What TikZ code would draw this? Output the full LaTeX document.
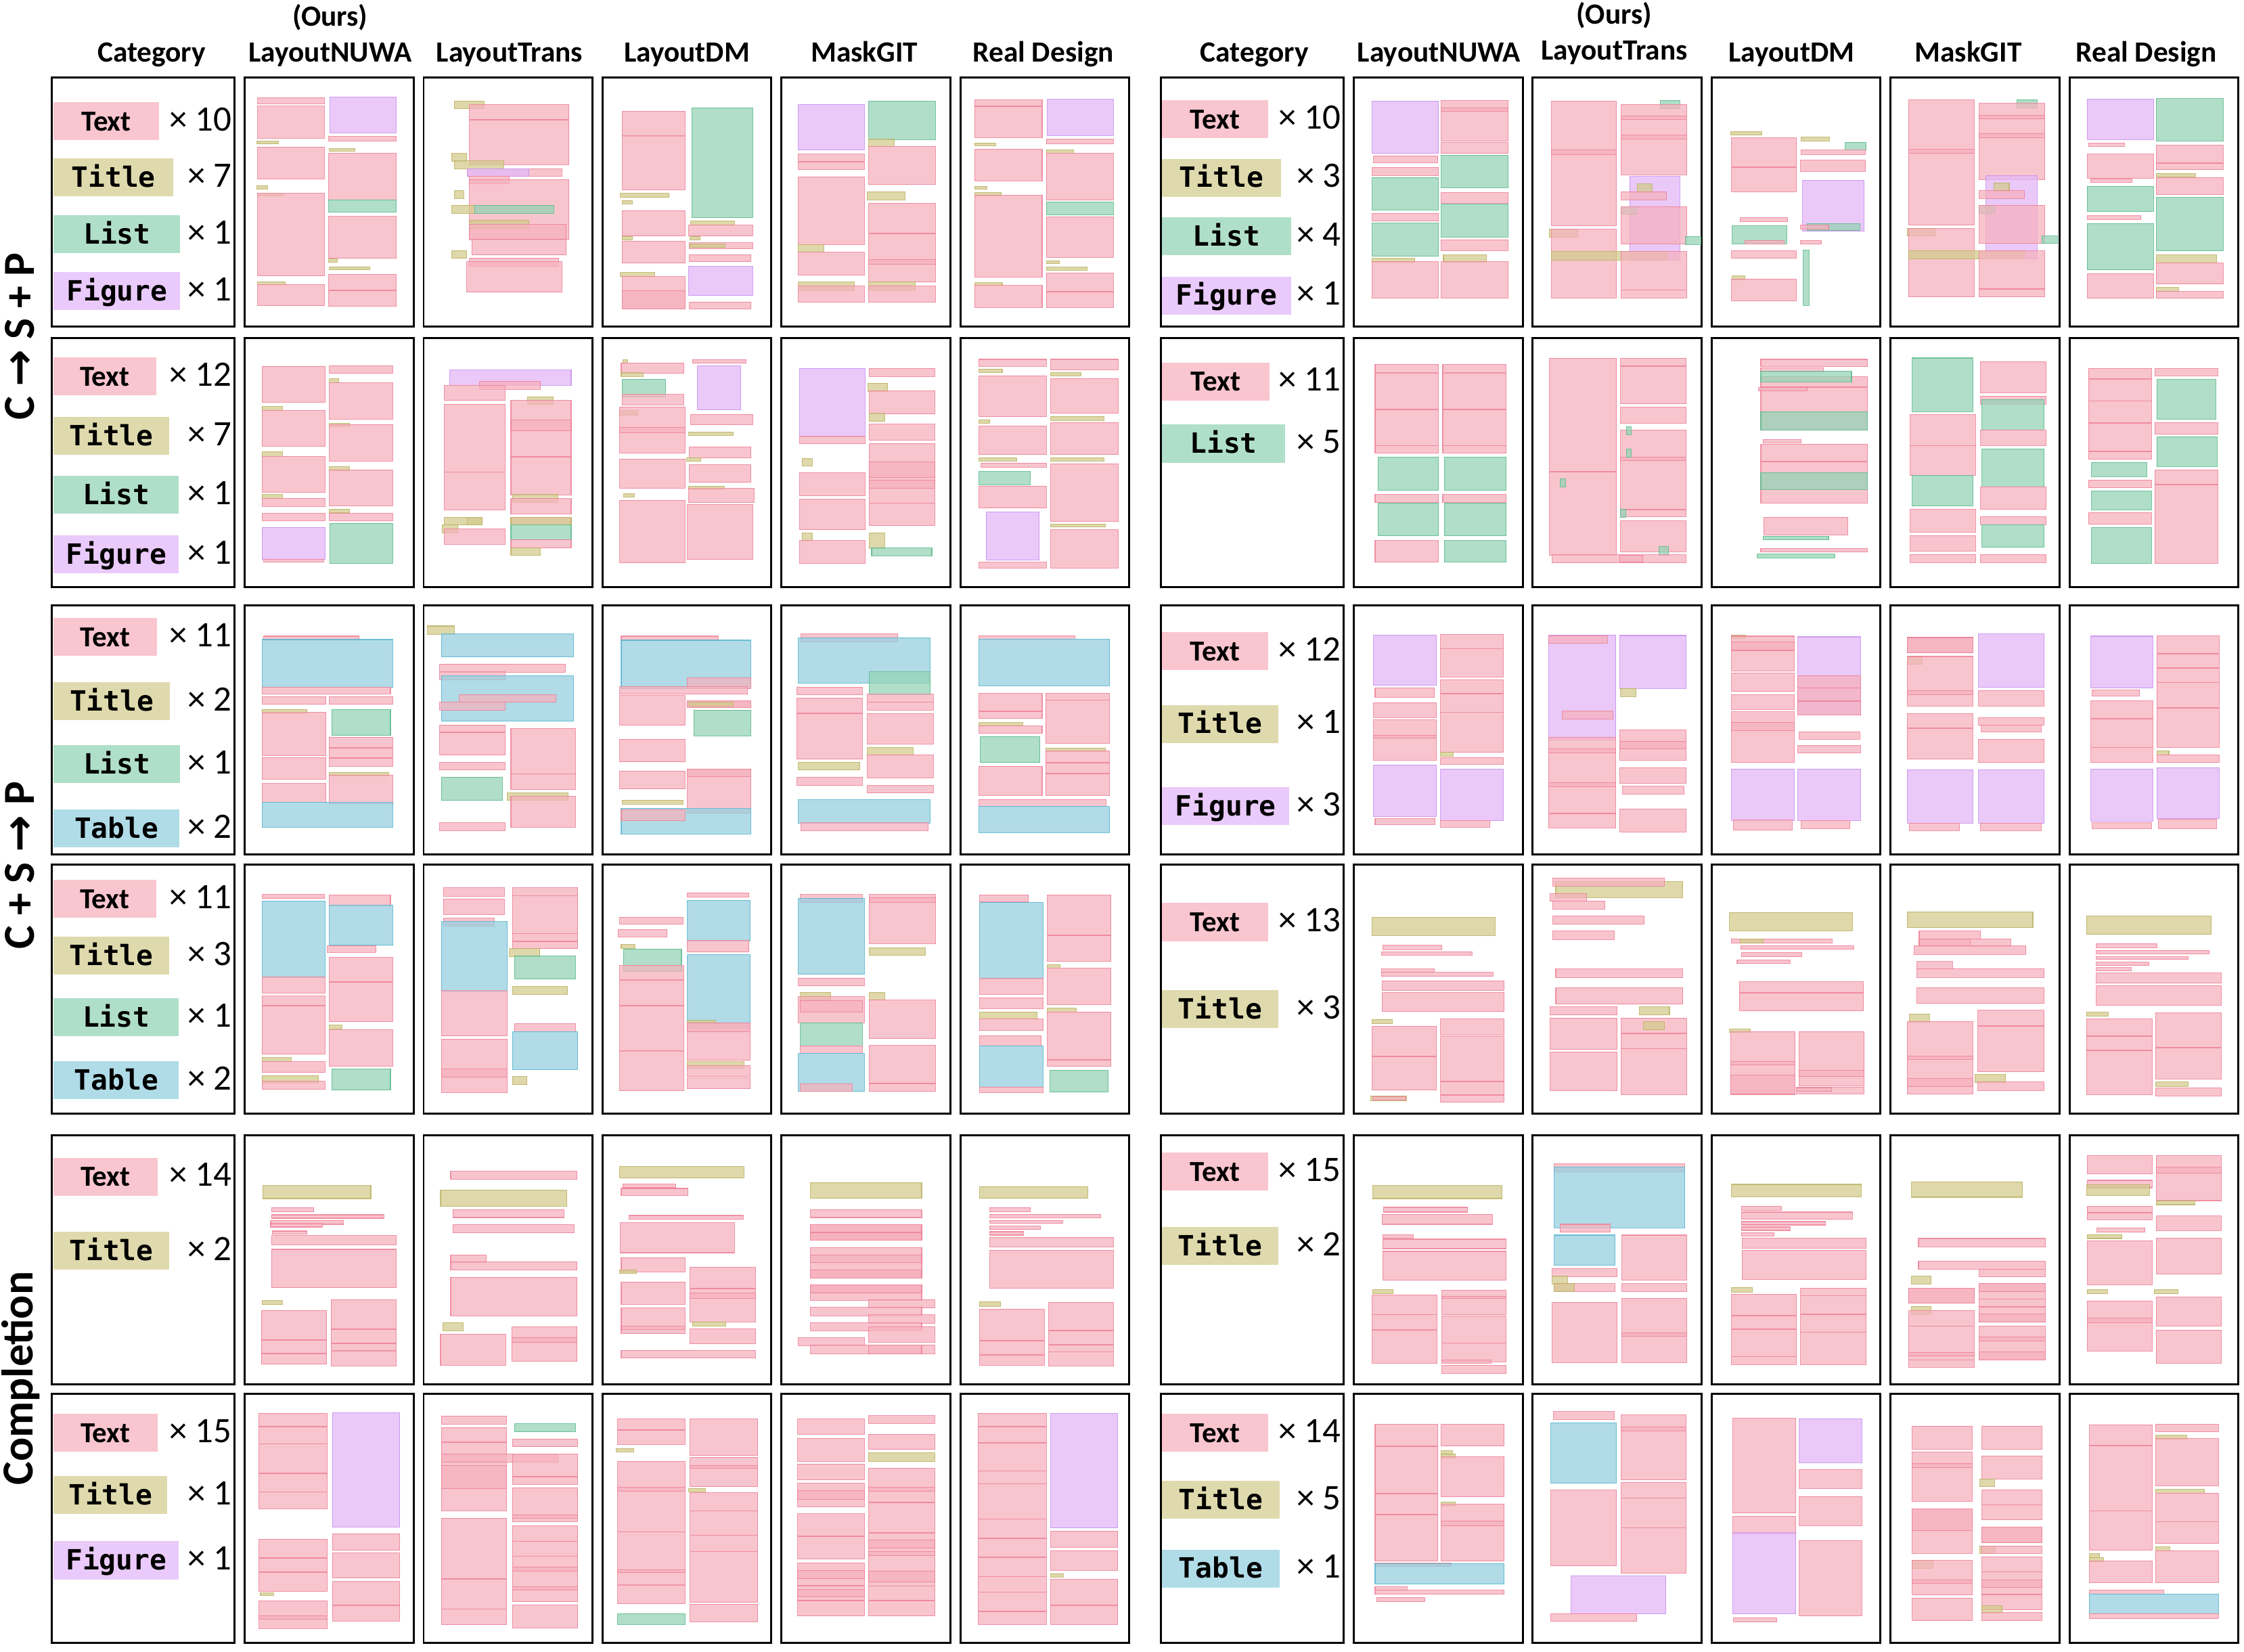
\documentclass[tikz,border=0pt]{standalone}
\usepackage{fontspec}
\setmainfont{Carlito}
\newfontfamily\monob{DejaVu Sans Mono}
\newfontfamily\dejab{DejaVu Sans}
\definecolor{txf}{HTML}{F6B2BE}\definecolor{txd}{HTML}{EE8298}
\definecolor{tif}{HTML}{D3CB8E}\definecolor{tid}{HTML}{BDB265}
\definecolor{lif}{HTML}{96D3B6}\definecolor{lid}{HTML}{5DBB8E}
\definecolor{fif}{HTML}{E3B8F8}\definecolor{fid}{HTML}{C890EE}
\definecolor{tbf}{HTML}{96D0E0}\definecolor{tbd}{HTML}{5AB6D0}
\definecolor{cT}{HTML}{F9C5CE}\definecolor{cH}{HTML}{DFDAAD}
\definecolor{cL}{HTML}{B0DFC9}\definecolor{cF}{HTML}{EACAFA}
\definecolor{cB}{HTML}{B0DCE8}
\tikzset{
 rbase/.style={fill opacity=0.75, draw opacity=0.85, line width=0.5pt},
 tx/.style={rbase, fill=txf, draw=txd},
 ti/.style={rbase, fill=tif, draw=tid},
 li/.style={rbase, fill=lif, draw=lid},
 fi/.style={rbase, fill=fif, draw=fid},
 tb/.style={rbase, fill=tbf, draw=tbd},
 ln/.style={draw=txd, line width=0.8pt, draw opacity=0.85},
 pbox/.style={draw=black, line width=1.4pt, fill=white},
 hdr/.style={font=\fontsize{20.5}{24}\selectfont\bfseries, anchor=base, inner sep=0pt},
 cnt/.style={font=\fontsize{25}{28}\selectfont, anchor=base east, inner sep=0pt},
 lbt/.style={anchor=base, inner sep=0pt},
 rowl/.style={font=\fontsize{31}{34}\selectfont\bfseries, rotate=90, anchor=base, inner sep=0pt}
}
\newcommand\rtx[4]{\filldraw[tx] (#1,#2) rectangle (#3,#4);}
\newcommand\rti[4]{\filldraw[ti] (#1,#2) rectangle (#3,#4);}
\newcommand\rli[4]{\filldraw[li] (#1,#2) rectangle (#3,#4);}
\newcommand\rfi[4]{\filldraw[fi] (#1,#2) rectangle (#3,#4);}
\newcommand\rtb[4]{\filldraw[tb] (#1,#2) rectangle (#3,#4);}
\newcommand\rln[3]{\draw[ln] (#1,#3) -- (#2,#3);}
\newcommand\ftext{\fontsize{20.3}{24}\selectfont\bfseries}
\newcommand\fmono{\monob\fontsize{19.5}{23}\selectfont\bfseries}
\newcommand\cntx{162}
\newcommand\catlab[8]{%
 \fill[#5] (#2,#4) rectangle (#3,#4+26.5);
 \node[lbt,font=#6] (#1) at ({(#2+#3)/2},#4+20) {#7};
 \node[cnt] (#1n) at (\cntx,#4+20) {× #8};}
\begin{document}
\begin{tikzpicture}[x=1pt,y=-1pt]
\useasboundingbox (0,0) rectangle (1568,1154);
% headers
\node[hdr] (oursL) at (230.7,18) {(Ours)};
\node[hdr] (hL1) at (106,43.5) {Category};
\node[hdr] (hL2) at (230.7,43.5) {LayoutNUWA};
\node[hdr] (hL3) at (356,43.5) {LayoutTrans};
\node[hdr] (hL4) at (480,43.5) {LayoutDM};
\node[hdr] (hL5) at (604,43.5) {MaskGIT};
\node[hdr] (hL6) at (729,43.5) {Real Design};
\node[hdr] (oursR) at (1128,16.6) {(Ours)};
\node[hdr] (hR1) at (876.5,43.5) {Category};
\node[hdr] (hR2) at (1005.5,43.5) {LayoutNUWA};
\node[hdr] (hR3) at (1128,41.8) {LayoutTrans};
\node[hdr] (hR4) at (1251.8,43.5) {LayoutDM};
\node[hdr] (hR5) at (1375.3,43.5) {MaskGIT};
\node[hdr] (hR6) at (1499.7,43.5) {Real Design};
% row labels
\node[rowl] (rl1) at (24,235) {C {\dejab →} S + P};
\node[rowl] (rl2) at (24,604.5) {C + S {\dejab →} P};
\node[rowl] (rl3) at (23,963) {Completion};
% panel boxes
\foreach \yy in {54,236,423,604,793,974}{
  \draw[pbox] (36,\yy) rectangle ++(128,174);
  \draw[pbox] (811,\yy) rectangle ++(128,174);
  \foreach \xx in {171,296,421,546,671,946,1071,1196,1321,1446}{\draw[pbox] (\xx,\yy) rectangle ++(118,174);}
}
% category labels left
\catlab{a1}{37.5}{111}{71.4}{cT}{\ftext}{Text}{10}
\catlab{a2}{37.5}{121}{110.8}{cH}{\fmono}{Title}{7}
\catlab{a3}{37.5}{126}{150.5}{cL}{\fmono}{List}{1}
\catlab{a4}{37.5}{126}{190.2}{cF}{\fmono}{Figure}{1}
\catlab{b1}{37.5}{109}{249.8}{cT}{\ftext}{Text}{12}
\catlab{b2}{37.5}{118}{291.3}{cH}{\fmono}{Title}{7}
\catlab{b3}{37.5}{125}{332.6}{cL}{\fmono}{List}{1}
\catlab{b4}{37.5}{125}{374}{cF}{\fmono}{Figure}{1}
\catlab{c1}{37.5}{109.5}{431.9}{cT}{\ftext}{Text}{11}
\catlab{c2}{37.5}{118.7}{476.5}{cH}{\fmono}{Title}{2}
\catlab{c3}{37.5}{125.8}{520.7}{cL}{\fmono}{List}{1}
\catlab{c4}{37.5}{125.3}{565.6}{cB}{\fmono}{Table}{2}
\catlab{d1}{37.5}{109}{614.8}{cT}{\ftext}{Text}{11}
\catlab{d2}{37.5}{118}{654.5}{cH}{\fmono}{Title}{3}
\catlab{d3}{37.5}{125}{697.6}{cL}{\fmono}{List}{1}
\catlab{d4}{37.5}{125}{741.4}{cB}{\fmono}{Table}{2}
\catlab{e1}{37.5}{110}{808.9}{cT}{\ftext}{Text}{14}
\catlab{e2}{37.5}{118}{860.6}{cH}{\fmono}{Title}{2}
\catlab{f1}{37.5}{110}{987.8}{cT}{\ftext}{Text}{15}
\catlab{f2}{37.5}{117}{1031.3}{cH}{\fmono}{Title}{1}
\catlab{f3}{37.5}{125}{1076.9}{cF}{\fmono}{Figure}{1}
\renewcommand\cntx{937}
\catlab{g1}{812}{886}{69.9}{cT}{\ftext}{Text}{10}
\catlab{g2}{812}{895}{110.9}{cH}{\fmono}{Title}{3}
\catlab{g3}{812}{902}{151.9}{cL}{\fmono}{List}{4}
\catlab{g4}{812}{902}{193.2}{cF}{\fmono}{Figure}{1}
\catlab{h1}{812}{887}{253.3}{cT}{\ftext}{Text}{11}
\catlab{h2}{812}{898}{296.7}{cL}{\fmono}{List}{5}
\catlab{i1}{812}{886}{441.6}{cT}{\ftext}{Text}{12}
\catlab{i2}{812}{893}{492.5}{cH}{\fmono}{Title}{1}
\catlab{i3}{812}{901}{549.9}{cF}{\fmono}{Figure}{3}
\catlab{j1}{812}{886}{631}{cT}{\ftext}{Text}{13}
\catlab{j2}{812}{893}{691.7}{cH}{\fmono}{Title}{3}
\catlab{k1}{812}{886}{805.4}{cT}{\ftext}{Text}{15}
\catlab{k2}{812}{893}{857.4}{cH}{\fmono}{Title}{2}
\catlab{m1}{812}{886}{987.8}{cT}{\ftext}{Text}{14}
\catlab{m2}{812}{894}{1034.8}{cH}{\fmono}{Title}{5}
\catlab{m3}{812}{894}{1082.6}{cB}{\fmono}{Table}{1}
% ===== ROW 1 LEFT =====
\begin{scope}[shift={(-0.5pt,0pt)},x=0.5071pt,y=-0.1577pt]
\rtx{356}{433}{448}{460}\rfi{456}{430}{547}{588}\rtx{356}{470}{448}{613}\rtx{454}{605}{547}{625}
\rti{355}{625}{385}{638}\rti{455}{657}{490}{670}\rtx{356}{652}{448}{793}\rtx{454}{678}{547}{885}
\rli{454}{885}{547}{940}\rti{355}{823}{370}{838}\rti{356}{855}{392}{868}\rtx{356}{855}{448}{1222}
\rtx{454}{958}{547}{1145}\rti{454}{1147}{466}{1162}\rti{455}{1182}{511}{1195}\rti{356}{1248}{394}{1260}
\rtx{356}{1260}{448}{1355}\rtx{454}{1215}{547}{1357}\rln{454}{547}{1287}
\rti{627}{448}{668}{482}\rtx{648}{462}{785}{730}\rln{648}{785}{531}\rti{623}{680}{644}{715}
\rti{627}{713}{695}{748}\rtx{645}{748}{775}{780}\rfi{645}{748}{730}{780}\rtx{648}{780}{703}{815}
\rtx{648}{795}{785}{1060}\rti{627}{845}{640}{880}\rti{623}{910}{655}{945}\rli{655}{910}{764}{945}
\rti{648}{975}{730}{1012}\rtx{648}{993}{781}{1062}\rtx{651}{1060}{781}{1130}\rti{623}{1110}{644}{1145}
\rtx{648}{1143}{771}{1180}\rtx{644}{1160}{775}{1295}
\rtx{858}{492}{945}{604}\rtx{858}{600}{945}{840}\rli{954}{477}{1038}{965}\rti{856}{857}{923}{875}
\rti{858}{888}{872}{903}\rtx{858}{933}{945}{1045}\rti{953}{980}{1013}{997}\rtx{950}{997}{1038}{1045}
\rti{858}{1047}{872}{1063}\rti{952}{1047}{966}{1063}\rtx{858}{1068}{945}{1165}\rtx{951}{1075}{1038}{1103}
\rti{952}{1080}{1000}{1097}\rtx{951}{1128}{1036}{1160}\rti{856}{1208}{903}{1225}\rtx{858}{1225}{945}{1370}
\rtx{858}{1288}{945}{1370}\rfi{950}{1180}{1038}{1310}\rtx{951}{1338}{1036}{1370}
\rfi{1101}{462}{1192}{665}\rli{1198}{447}{1290}{618}\rti{1198}{615}{1233}{650}\rtx{1101}{683}{1192}{750}
\rln{1101}{1192}{717}\rtx{1198}{648}{1290}{818}\rtx{1101}{783}{1192}{1083}\rti{1196}{850}{1248}{886}
\rtx{1198}{900}{1290}{1250}\rln{1198}{1290}{1035}\rtx{1198}{1150}{1290}{1170}\rti{1101}{1083}{1136}{1117}
\rtx{1101}{1117}{1192}{1218}\rti{1101}{1250}{1178}{1287}\rti{1198}{1250}{1262}{1287}\rtx{1101}{1268}{1192}{1338}
\rtx{1198}{1268}{1290}{1338}
\rtx{1344}{442}{1437}{610}\rln{1344}{1437}{470}\rfi{1444}{440}{1535}{600}\rtx{1443}{615}{1535}{637}
\rti{1344}{633}{1373}{646}\rti{1443}{663}{1480}{678}\rtx{1344}{660}{1437}{802}\rtx{1443}{678}{1535}{887}
\rti{1344}{825}{1361}{838}\rti{1344}{853}{1381}{867}\rtx{1344}{865}{1437}{1228}\rli{1443}{895}{1535}{952}
\rtx{1443}{960}{1535}{1140}\rti{1443}{1155}{1461}{1168}\rti{1443}{1183}{1499}{1197}\rti{1344}{1252}{1382}{1265}
\rtx{1344}{1265}{1437}{1362}\rtx{1443}{1210}{1535}{1362}\rln{1443}{1535}{1293}
\end{scope}
% ===== ROW 1 RIGHT =====
\begin{scope}[shift={(803.9pt,0pt)},x=0.4874pt,y=-0.1577pt]
\rfi{318}{447}{413}{680}\rtx{417}{445}{513}{625}\rtx{417}{478}{513}{493}\rtx{417}{632}{513}{680}
\rtx{320}{690}{412}{720}\rli{417}{687}{513}{832}\rtx{318}{742}{413}{778}\rli{318}{787}{413}{930}
\rtx{417}{852}{513}{900}\rli{417}{905}{513}{1050}\rtx{318}{945}{413}{980}\rli{318}{988}{413}{1135}
\rtx{417}{1062}{513}{1110}\rti{318}{1145}{379}{1162}\rti{420}{1130}{482}{1162}\rtx{318}{1160}{413}{1320}
\rtx{417}{1160}{513}{1320}
\rtx{575}{447}{668}{1000}\rtx{575}{665}{668}{685}\rli{731}{445}{759}{482}\rtx{675}{462}{769}{775}
\rtx{675}{515}{769}{530}\rtx{675}{597}{769}{615}\rfi{687}{782}{759}{1152}\rti{698}{815}{719}{852}
\rtx{675}{850}{740}{885}\rli{675}{915}{697}{950}\rtx{675}{915}{769}{1082}\rli{767}{1048}{789}{1083}
\rti{572}{1015}{613}{1050}\rtx{575}{1015}{668}{1320}\rti{575}{1115}{741}{1152}\rtx{675}{1115}{769}{1320}
\rln{675}{769}{1285}
\rti{832}{582}{876}{598}\rti{933}{608}{973}{625}\rli{996}{630}{1026}{664}\rtx{833}{610}{926}{850}
\rln{833}{926}{740}\rtx{933}{665}{1025}{685}\rtx{932}{710}{1025}{760}\rfi{935}{798}{1023}{1025}
\rtx{845}{965}{913}{982}\rli{941}{990}{1017}{1020}\rtx{932}{997}{972}{1015}\rli{834}{1000}{912}{1080}
\rtx{852}{1065}{908}{1082}\rtx{932}{1065}{962}{1082}\rtx{833}{1112}{926}{1145}\rli{936}{1108}{944}{1353}
\rti{834}{1222}{852}{1240}\rtx{833}{1236}{926}{1333}
\rtx{1087}{442}{1181}{998}\rtx{1087}{660}{1181}{680}\rli{1242}{442}{1271}{478}\rtx{1188}{458}{1282}{795}
\rtx{1188}{510}{1282}{525}\rtx{1188}{592}{1282}{610}\rfi{1198}{778}{1271}{1148}\rti{1209}{810}{1231}{848}
\rtx{1188}{845}{1253}{880}\rli{1188}{910}{1210}{945}\rtx{1188}{910}{1282}{1078}\rli{1278}{1045}{1300}{1078}
\rti{1085}{1012}{1126}{1045}\rtx{1087}{1012}{1181}{1315}\rti{1087}{1112}{1253}{1148}\rtx{1188}{1112}{1282}{1315}
\rln{1188}{1282}{1280}
\rfi{1343}{438}{1438}{618}\rli{1442}{437}{1538}{625}\rtx{1345}{633}{1396}{648}\rtx{1442}{642}{1538}{752}
\rln{1442}{1538}{722}\rtx{1343}{683}{1438}{790}\rtx{1348}{793}{1407}{808}\rti{1442}{768}{1498}{784}
\rtx{1442}{787}{1538}{862}\rli{1343}{825}{1438}{938}\rli{1442}{875}{1538}{1112}\rtx{1343}{955}{1420}{972}
\rli{1343}{990}{1438}{1195}\rti{1442}{1130}{1528}{1165}\rtx{1442}{1165}{1538}{1258}\rtx{1343}{1212}{1438}{1322}
\rti{1442}{1273}{1474}{1292}\rtx{1442}{1292}{1538}{1322}
\end{scope}
% ===== ROW 2 LEFT =====
\begin{scope}[shift={(-0.5pt,-231.7pt)},x=0.5071pt,y=-0.1577pt]
\rtx{362}{153}{449}{313}\rtx{455}{150}{542}{185}\rti{455}{208}{468}{227}\rtx{455}{227}{542}{388}
\rti{362}{332}{390}{350}\rtx{362}{348}{449}{508}\rti{455}{405}{483}{422}\rtx{455}{412}{542}{573}
\rti{362}{533}{390}{552}\rtx{362}{552}{449}{712}\rti{455}{598}{483}{617}\rtx{455}{612}{542}{772}
\rti{362}{722}{390}{740}\rtx{362}{738}{449}{775}\rti{455}{787}{483}{803}\rtx{362}{805}{449}{838}
\rtx{455}{805}{542}{838}\rfi{362}{868}{449}{1010}\rtx{364}{1010}{447}{1022}\rli{456}{850}{542}{1027}
\rfi{621}{170}{788}{238}\rtx{662}{220}{746}{256}\rtx{613}{237}{697}{305}\rti{728}{288}{763}{322}
\rtx{613}{322}{697}{790}\rln{613}{697}{622}\rtx{705}{303}{788}{723}\rtx{705}{390}{788}{440}
\rln{705}{788}{555}\rti{707}{720}{770}{757}\rtx{705}{740}{788}{808}\rti{613}{822}{665}{857}
\rti{645}{822}{665}{857}\rti{610}{857}{632}{892}\rtx{613}{874}{697}{942}\rtx{705}{823}{788}{857}
\rti{705}{823}{788}{857}\rli{705}{857}{788}{922}\rtx{705}{922}{788}{958}\rti{705}{958}{746}{992}
\rti{859}{125}{866}{140}\rtx{955}{124}{1029}{140}\rtx{857}{138}{943}{185}\rti{857}{180}{887}{198}
\rfi{962}{150}{1022}{347}\rli{858}{210}{918}{290}\rtx{858}{278}{943}{325}\rti{855}{350}{880}{370}
\rtx{855}{333}{945}{537}\rtx{855}{425}{945}{448}\rtx{953}{367}{1038}{413}\rti{950}{445}{1011}{460}
\rtx{951}{510}{1036}{560}\rti{947}{558}{967}{575}\rtx{855}{565}{945}{693}\rtx{951}{590}{1036}{668}
\rti{950}{684}{999}{700}\rtx{950}{693}{1040}{758}\rti{860}{718}{875}{733}\rtx{855}{748}{945}{1025}
\rtx{948}{765}{1038}{1010}
\rfi{1103}{162}{1193}{465}\rtx{1103}{462}{1193}{497}\rtx{1199}{162}{1289}{198}\rti{1197}{229}{1224}{265}
\rtx{1199}{262}{1289}{365}\rti{1199}{362}{1220}{398}\rtx{1199}{410}{1289}{480}\rtx{1199}{495}{1289}{860}
\rtx{1199}{578}{1289}{645}\rtx{1199}{658}{1289}{695}\rln{1199}{1289}{760}\rti{1106}{562}{1120}{595}
\rtx{1103}{625}{1193}{728}\rtx{1103}{743}{1193}{878}\rti{1106}{892}{1120}{925}\rtx{1103}{925}{1193}{1027}
\rti{1199}{892}{1220}{960}\rli{1202}{958}{1285}{993}
\rtx{1350}{123}{1443}{153}\rtx{1449}{123}{1542}{168}\rti{1350}{165}{1382}{182}\rti{1449}{180}{1491}{195}
\rtx{1350}{195}{1443}{377}\rtx{1449}{207}{1542}{362}\rti{1350}{390}{1365}{405}\rti{1449}{376}{1522}{393}
\rtx{1350}{418}{1443}{545}\rtx{1449}{402}{1542}{545}\rti{1350}{558}{1402}{573}\rti{1449}{558}{1522}{573}
\rtx{1353}{583}{1443}{600}\rtx{1449}{585}{1542}{840}\rli{1350}{620}{1421}{678}\rtx{1350}{684}{1443}{782}
\rfi{1360}{798}{1433}{1013}\rti{1449}{852}{1524}{866}\rtx{1449}{878}{1542}{1047}\rtx{1350}{1022}{1443}{1047}
\end{scope}
% ===== ROW 2 RIGHT =====
\begin{scope}[shift={(803.9pt,-231.7pt)},x=0.4874pt,y=-0.1577pt]
\rtx{322}{145}{413}{180}\rtx{419}{145}{510}{180}\rtx{322}{185}{413}{538}\rtx{419}{185}{510}{538}
\rln{322}{413}{345}\rln{419}{510}{345}\rln{322}{413}{505}\rln{419}{510}{505}
\rli{326}{556}{413}{702}\rli{421}{556}{510}{702}\rtx{322}{722}{413}{757}\rtx{419}{722}{510}{757}
\rli{326}{760}{413}{905}\rli{421}{760}{510}{905}\rtx{322}{925}{413}{1022}\rli{421}{925}{510}{1022}
\rtx{572}{118}{668}{990}\rln{572}{668}{620}\rtx{674}{118}{768}{320}\rln{674}{768}{153}
\rtx{674}{335}{768}{405}\rtx{674}{435}{768}{820}\rtx{674}{555}{768}{572}\rln{674}{768}{788}
\rli{682}{420}{689}{456}\rli{682}{520}{689}{556}\rli{587}{652}{595}{688}\rli{674}{787}{681}{822}
\rtx{674}{838}{768}{975}\rli{729}{953}{743}{990}\rtx{576}{988}{768}{1025}\rtx{673}{990}{706}{1022}
\rtx{875}{123}{1028}{155}\rtx{875}{160}{965}{178}\rtx{875}{200}{1028}{437}\rli{875}{175}{1005}{222}
\rln{875}{1028}{245}\rtx{872}{248}{941}{263}\rli{875}{355}{1028}{437}\rtx{878}{478}{933}{492}
\rtx{875}{498}{1028}{760}\rln{875}{1028}{575}\rli{875}{625}{1028}{700}\rtx{879}{822}{1000}{900}
\rli{878}{907}{972}{922}\rtx{875}{960}{1028}{977}\rli{870}{986}{981}{1002}
\rli{1092}{117}{1179}{355}\rtx{1190}{132}{1284}{270}\rtx{1190}{285}{1284}{322}\rli{1192}{300}{1281}{437}
\rtx{1089}{368}{1183}{638}\rln{1089}{1183}{505}\rtx{1190}{435}{1284}{505}\rli{1192}{520}{1281}{688}
\rli{1092}{638}{1179}{773}\rtx{1190}{688}{1284}{788}\rtx{1089}{787}{1183}{888}\rtx{1190}{820}{1284}{855}
\rli{1192}{855}{1281}{955}\rtx{1089}{905}{1183}{972}\rtx{1089}{987}{1183}{1023}\rtx{1190}{987}{1284}{1023}
\rtx{1345}{163}{1435}{565}\rln{1345}{1435}{210}\rln{1345}{1435}{307}\rln{1345}{1435}{405}\rln{1345}{1435}{530}
\rtx{1440}{163}{1530}{195}\rli{1443}{212}{1527}{388}\rtx{1440}{402}{1530}{455}\rli{1443}{466}{1529}{598}
\rli{1349}{580}{1428}{643}\rtx{1440}{612}{1530}{1028}\rln{1440}{1530}{678}\rtx{1345}{658}{1435}{692}
\rli{1349}{707}{1435}{790}\rtx{1345}{802}{1435}{853}\rli{1349}{867}{1435}{1028}
\end{scope}
% ===== ROW 3 LEFT =====
\begin{scope}[shift={(-0.5pt,-416.1pt)},x=0.5071pt,y=-0.1577pt]
\rtx{364}{180}{496}{197}\rtb{362}{195}{542}{407}\rtx{362}{407}{539}{435}\rtx{362}{448}{450}{482}
\rtx{455}{448}{542}{482}\rti{362}{505}{424}{522}\rtx{362}{517}{450}{710}\rli{458}{505}{539}{620}
\rtx{455}{627}{542}{757}\rln{455}{542}{675}\rln{455}{542}{720}\rtx{362}{718}{450}{813}
\rti{455}{783}{537}{798}\rtx{455}{795}{542}{922}\rtx{362}{833}{450}{917}\rtb{362}{915}{542}{1027}
\rti{590}{135}{627}{172}\rtb{609}{170}{791}{272}\rtx{607}{304}{780}{340}\rtx{607}{338}{697}{373}
\rtb{609}{354}{791}{557}\rtx{634}{438}{767}{473}\rtx{607}{472}{697}{508}\rtx{607}{573}{697}{707}
\rln{607}{697}{605}\rtx{705}{588}{794}{860}\rln{705}{794}{790}\rtx{607}{738}{697}{773}
\rli{609}{805}{693}{908}\rti{700}{873}{784}{908}\rtx{705}{890}{794}{1027}\rtx{607}{1007}{697}{1042}
\rtx{857}{180}{991}{198}\rtb{857}{198}{1036}{412}\rtx{948}{363}{1036}{412}\rtx{855}{402}{1031}{437}
\rtx{855}{443}{945}{575}\rtx{948}{465}{1036}{497}\rtx{948}{465}{1036}{497}\rti{951}{472}{1011}{490}
\rli{957}{508}{1036}{622}\rtx{855}{637}{945}{737}\rtx{855}{777}{945}{857}\rtx{948}{768}{1036}{965}
\rtx{948}{768}{1036}{802}\rti{858}{906}{942}{925}\rtb{857}{943}{1036}{1057}\rtx{857}{948}{945}{998}
\rtx{1105}{170}{1238}{205}\rtb{1101}{187}{1283}{388}\rli{1199}{338}{1283}{440}\rtx{1099}{405}{1189}{440}
\rtx{1196}{437}{1287}{508}\rln{1196}{1287}{472}\rtx{1099}{453}{1189}{725}\rln{1099}{1189}{522}
\rtx{1196}{522}{1287}{658}\rti{1196}{672}{1259}{707}\rtx{1196}{705}{1287}{807}\rti{1101}{738}{1186}{773}
\rtx{1099}{805}{1189}{842}\rtx{1196}{840}{1287}{875}\rtb{1101}{905}{1283}{1008}\rtx{1105}{1005}{1280}{1042}
\rtx{1350}{178}{1482}{193}\rtb{1350}{193}{1530}{400}\rtx{1350}{432}{1437}{545}\rln{1350}{1437}{512}
\rtx{1442}{432}{1530}{655}\rln{1442}{1530}{463}\rti{1350}{563}{1410}{578}\rtx{1350}{578}{1437}{610}
\rli{1352}{625}{1434}{740}\rti{1442}{675}{1524}{690}\rtx{1442}{688}{1530}{885}\rln{1442}{1530}{740}
\rln{1442}{1530}{788}\rtx{1350}{757}{1437}{885}\rtx{1350}{903}{1525}{933}\rtb{1350}{933}{1530}{1050}
\end{scope}
% ===== ROW 3 RIGHT =====
\begin{scope}[shift={(803.9pt,-416.1pt)},x=0.4874pt,y=-0.1577pt]
\rfi{320}{175}{410}{398}\rtx{416}{172}{506}{360}\rln{416}{506}{235}\rtx{322}{408}{407}{450}
\rtx{416}{372}{506}{695}\rln{416}{506}{435}\rln{416}{506}{517}\rtx{320}{475}{410}{540}
\rtx{320}{550}{410}{730}\rtx{320}{618}{410}{632}\rti{416}{695}{434}{713}\rtx{416}{717}{506}{748}
\rfi{320}{750}{410}{980}\rfi{416}{768}{506}{997}\rtx{322}{987}{408}{1015}\rtx{416}{997}{486}{1027}
\rfi{571}{175}{667}{640}\rtx{571}{178}{655}{212}\rfi{673}{177}{768}{412}\rti{674}{412}{696}{447}
\rtx{590}{510}{663}{548}\rtx{571}{628}{667}{1030}\rtx{571}{680}{667}{698}\rtx{571}{830}{667}{848}
\rln{571}{667}{965}\rtx{673}{595}{768}{730}\rtx{673}{645}{768}{680}\rtx{673}{762}{768}{832}
\rtx{677}{845}{765}{880}\rtx{673}{945}{768}{1048}
\rti{833}{175}{853}{190}\rtx{833}{180}{923}{335}\rtx{833}{205}{923}{243}\rfi{928}{183}{1018}{530}
\rtx{928}{355}{1018}{410}\rtx{928}{410}{1018}{530}\rln{928}{1018}{468}\rtx{833}{343}{923}{425}
\rtx{833}{440}{923}{505}\rtx{833}{515}{923}{740}\rtx{833}{562}{923}{598}\rtx{930}{603}{1017}{637}
\rtx{928}{663}{1018}{698}\rfi{833}{768}{923}{997}\rfi{928}{768}{1018}{997}\rtx{836}{995}{920}{1040}
\rtx{933}{997}{1003}{1033}
\rtx{1085}{186}{1179}{253}\rtx{1085}{186}{1179}{253}\rti{1085}{270}{1106}{305}\rtx{1085}{270}{1179}{490}
\rtx{1085}{420}{1179}{438}\rfi{1187}{170}{1281}{407}\rtx{1187}{420}{1281}{490}\rtx{1085}{522}{1179}{725}
\rln{1085}{1179}{588}\rtx{1187}{540}{1281}{575}\rtx{1191}{575}{1277}{605}\rtx{1187}{637}{1281}{740}
\rfi{1085}{772}{1179}{1008}\rfi{1187}{772}{1281}{1008}\rtx{1088}{1008}{1160}{1042}\rtx{1190}{1008}{1277}{1042}
\rfi{1348}{180}{1437}{410}\rtx{1443}{178}{1532}{672}\rln{1443}{1532}{257}\rln{1443}{1532}{320}
\rln{1443}{1532}{385}\rln{1443}{1532}{497}\rtx{1350}{417}{1418}{445}\rtx{1348}{465}{1437}{740}
\rln{1348}{1437}{545}\rln{1348}{1437}{673}\rti{1443}{688}{1460}{705}\rtx{1443}{706}{1532}{740}
\rfi{1348}{768}{1437}{1000}\rfi{1443}{763}{1532}{988}\rtx{1350}{1005}{1435}{1033}\rtx{1445}{990}{1528}{1033}
\end{scope}
% ===== ROW 4 LEFT =====
\begin{scope}[shift={(-0.5pt,-598.2pt)},x=0.5071pt,y=-0.1577pt]
\rtx{362}{170}{448}{188}\rtx{455}{172}{539}{220}\rtb{362}{198}{449}{538}\rtb{455}{217}{542}{395}
\rtx{452}{397}{519}{427}\rtx{362}{535}{449}{606}\rtx{455}{448}{542}{733}\rln{455}{542}{557}
\rtx{362}{620}{449}{877}\rln{362}{449}{663}\rti{455}{748}{472}{765}\rtx{455}{770}{542}{930}
\rti{362}{893}{402}{910}\rtx{362}{910}{449}{958}\rti{362}{972}{440}{1005}\rtx{362}{998}{449}{1033}
\rli{458}{942}{539}{1037}
\rtx{612}{140}{696}{177}\rtx{707}{140}{797}{410}\rln{707}{797}{175}\rln{707}{797}{343}\rln{707}{797}{378}
\rtx{612}{190}{696}{258}\rtx{612}{275}{682}{310}\rtb{609}{290}{700}{600}\rti{703}{410}{745}{445}
\rli{710}{443}{794}{545}\rti{707}{577}{783}{612}\rtx{609}{595}{700}{797}\rtx{710}{743}{794}{778}
\rtb{707}{777}{797}{945}\rtx{609}{810}{700}{1047}\rtx{609}{942}{700}{980}\rti{707}{977}{727}{1013}
\rtx{948}{162}{1033}{180}\rtx{855}{270}{942}{302}\rtb{948}{195}{1035}{375}\rtx{853}{325}{920}{358}
\rti{857}{390}{876}{408}\rtx{948}{373}{1033}{425}\rli{860}{412}{940}{512}\rtx{855}{483}{943}{548}
\rtb{948}{437}{1035}{760}\rtx{855}{550}{943}{865}\rln{855}{943}{663}\rti{948}{727}{987}{745}
\rtx{948}{740}{1035}{905}\rtx{948}{740}{1035}{777}\rtx{855}{862}{943}{1040}\rti{948}{910}{1026}{940}
\rtx{948}{927}{1035}{977}\rtx{948}{982}{1035}{1030}
\rtx{1104}{170}{1189}{205}\rtx{1199}{170}{1290}{388}\rtx{1199}{185}{1290}{205}\rtb{1101}{187}{1192}{523}
\rti{1199}{405}{1276}{440}\rtx{1101}{540}{1192}{575}\rti{1104}{603}{1146}{638}\rti{1199}{603}{1220}{638}
\rtx{1101}{622}{1192}{738}\rtx{1104}{640}{1189}{690}\rtx{1199}{637}{1290}{808}\rli{1104}{738}{1189}{840}
\rtx{1104}{840}{1189}{873}\rtb{1101}{873}{1192}{1043}\rtx{1199}{838}{1290}{1043}\rln{1199}{1290}{1008}
\rtx{1104}{1008}{1175}{1043}
\rtx{1351}{172}{1418}{203}\rtb{1351}{205}{1438}{543}\rtx{1444}{172}{1532}{465}\rln{1444}{1532}{350}
\rti{1444}{480}{1462}{495}\rtx{1444}{495}{1532}{657}\rtx{1351}{540}{1438}{612}\rtx{1351}{627}{1438}{675}
\rti{1444}{673}{1484}{690}\rti{1351}{690}{1430}{722}\rtx{1444}{690}{1532}{932}\rln{1444}{1532}{902}
\rtx{1351}{722}{1438}{772}\rtx{1351}{795}{1436}{842}\rtb{1351}{840}{1438}{1023}\rtx{1351}{1023}{1438}{1047}
\rli{1448}{948}{1528}{1045}
\end{scope}
% ===== ROW 4 RIGHT =====
\begin{scope}[shift={(803.9pt,-598.2pt)},x=0.4874pt,y=-0.1577pt]
\rti{318}{270}{494}{352}\rtx{333}{395}{418}{415}\rtx{331}{423}{461}{438}\rtx{331}{500}{407}{515}
\rtx{331}{515}{491}{533}\rtx{332}{552}{507}{595}\rtx{332}{605}{507}{688}\rti{318}{723}{347}{742}
\rtx{416}{720}{507}{793}\rtx{318}{753}{410}{1037}\rln{318}{410}{888}\rtx{416}{800}{507}{1090}
\rln{416}{507}{998}\rln{416}{507}{1058}\rti{316}{1062}{367}{1085}\rtx{319}{1065}{366}{1080}
\rti{581}{113}{763}{184}\rtx{577}{97}{737}{133}\rtx{573}{165}{625}{200}\rtx{577}{198}{651}{235}
\rtx{577}{265}{708}{302}\rtx{577}{332}{665}{370}\rtx{581}{500}{763}{538}\rtx{581}{582}{763}{655}
\rtx{573}{667}{669}{703}\rti{701}{667}{744}{703}\rtx{573}{717}{669}{857}\rtx{675}{717}{769}{1057}
\rln{675}{769}{785}\rln{675}{769}{853}\rti{707}{733}{737}{770}\rtx{573}{868}{669}{1040}
\rti{830}{249}{1006}{330}\rtx{833}{367}{977}{385}\rti{845}{367}{878}{385}\rtx{846}{396}{1008}{413}
\rtx{847}{427}{934}{445}\rtx{841}{459}{917}{476}\rtx{844}{557}{1022}{685}\rln{844}{1022}{605}
\rti{830}{765}{860}{782}\rtx{832}{777}{924}{1057}\rtx{832}{910}{924}{925}\rtx{832}{970}{924}{1055}
\rtx{930}{777}{1023}{1017}\rtx{930}{950}{1023}{975}\rtx{926}{1023}{1023}{1053}\rtx{926}{1027}{976}{1043}
\rti{1085}{247}{1265}{317}\rtx{1102}{332}{1190}{367}\rtx{1102}{366}{1233}{400}\rtx{1102}{366}{1175}{400}
\rtx{1095}{398}{1255}{435}\rtx{1099}{466}{1150}{500}\rtx{1099}{498}{1281}{537}\rtx{1099}{582}{1281}{652}
\rti{1088}{699}{1117}{735}\rtx{1186}{683}{1281}{955}\rln{1186}{1281}{752}\rtx{1085}{732}{1179}{1055}
\rtx{1085}{885}{1179}{900}\rtx{1085}{985}{1179}{1022}\rti{1182}{967}{1226}{1003}\rtx{1186}{1000}{1281}{1038}
\rti{1342}{265}{1521}{347}\rtx{1356}{387}{1443}{405}\rtx{1356}{418}{1518}{433}\rtx{1356}{445}{1488}{458}
\rtx{1356}{470}{1431}{485}\rtx{1356}{493}{1406}{508}\rtx{1356}{518}{1535}{562}\rtx{1356}{573}{1535}{660}
\rti{1342}{692}{1373}{710}\rtx{1342}{720}{1436}{1058}\rln{1342}{1436}{797}\rln{1342}{1436}{860}
\rtx{1441}{695}{1535}{987}\rln{1441}{1535}{848}\rti{1441}{1000}{1488}{1020}\rtx{1441}{1027}{1535}{1062}
\end{scope}
% ===== ROW 5 LEFT =====
\begin{scope}[shift={(-0.5pt,-784.9pt)},x=0.5071pt,y=-0.1577pt]
\rti{363}{275}{512}{333}\rtx{375}{373}{433}{392}\rtx{375}{405}{530}{420}\rtx{374}{430}{474}{447}
\rtx{374}{443}{445}{459}\rtx{376}{477}{424}{491}\rtx{375}{497}{547}{538}\rtx{375}{558}{547}{728}
\rti{362}{785}{390}{803}\rtx{361}{828}{451}{1067}\rln{361}{451}{960}\rln{361}{451}{1020}
\rtx{457}{780}{547}{1005}\rln{457}{547}{912}\rln{457}{547}{975}\rtx{457}{1010}{547}{1075}
\rtx{622}{213}{796}{248}\rti{608}{295}{782}{367}\rtx{625}{382}{778}{417}\rtx{625}{448}{792}{485}
\rtx{622}{583}{671}{617}\rtx{622}{613}{796}{650}\rtx{622}{681}{796}{852}\rti{611}{883}{639}{918}
\rtx{608}{933}{698}{1072}\rtx{706}{900}{796}{1053}\rtx{706}{948}{796}{970}
\rti{855}{192}{1026}{242}\rtx{859}{268}{932}{285}\rtx{857}{288}{949}{320}\rtx{868}{408}{1025}{425}
\rtx{856}{440}{1013}{573}\rtx{857}{595}{945}{658}\rti{855}{648}{878}{665}\rtx{952}{637}{1042}{880}
\rln{952}{1042}{732}\rtx{952}{750}{1042}{775}\rtx{857}{703}{945}{802}\rtx{857}{818}{945}{932}
\rtx{857}{898}{945}{913}\rti{955}{880}{1001}{898}\rtx{952}{910}{1042}{977}\rtx{857}{1005}{1042}{1040}
\rti{1118}{262}{1271}{332}\rtx{1118}{382}{1271}{417}\rtx{1118}{448}{1271}{518}\rtx{1118}{448}{1271}{518}
\rtx{1118}{483}{1271}{518}\rtx{1118}{550}{1271}{685}\rtx{1118}{583}{1271}{617}\rtx{1118}{648}{1271}{685}
\rtx{1118}{648}{1271}{685}\rtx{1118}{715}{1271}{785}\rtx{1118}{715}{1271}{750}\rtx{1118}{715}{1271}{750}
\rtx{1198}{780}{1289}{818}\rtx{1118}{815}{1271}{852}\rtx{1198}{848}{1289}{885}\rtx{1118}{883}{1271}{918}
\rtx{1198}{900}{1289}{970}\rtx{1101}{948}{1192}{985}\rtx{1118}{982}{1289}{1020}\rtx{1198}{982}{1271}{1020}
\rti{1351}{280}{1500}{332}\rtx{1365}{373}{1421}{392}\rtx{1365}{403}{1518}{418}\rtx{1365}{430}{1465}{443}
\rtx{1365}{455}{1435}{470}\rtx{1365}{480}{1411}{495}\rtx{1365}{505}{1535}{548}\rtx{1365}{562}{1535}{730}
\rti{1351}{790}{1380}{810}\rtx{1351}{823}{1440}{1072}\rln{1351}{1440}{962}\rln{1351}{1440}{1025}
\rtx{1446}{793}{1535}{1075}\rln{1446}{1535}{918}\rln{1446}{1535}{980}\rln{1446}{1535}{1012}
\end{scope}
% ===== ROW 5 RIGHT =====
\begin{scope}[shift={(803.9pt,-784.9pt)},x=0.4874pt,y=-0.1577pt]
\rti{319}{275}{504}{333}\rtx{334}{372}{454}{393}\rtx{332}{403}{490}{447}\rtx{333}{493}{377}{508}
\rtx{333}{513}{510}{555}\rtx{333}{567}{510}{695}\rti{319}{735}{348}{755}\rtx{318}{760}{411}{912}
\rln{318}{411}{847}\rtx{318}{915}{411}{1062}\rtx{418}{738}{510}{848}\rtx{418}{765}{510}{775}
\rtx{418}{852}{510}{1057}\rln{418}{510}{973}\rtx{418}{1048}{488}{1063}\rtx{418}{1072}{510}{1107}
\rtx{579}{180}{766}{215}\rtb{579}{195}{766}{463}\rtx{587}{447}{659}{482}\rtb{579}{495}{666}{628}
\rtx{676}{495}{769}{695}\rtx{576}{642}{669}{678}\rti{576}{677}{598}{712}\rtx{579}{710}{666}{745}
\rti{579}{710}{608}{745}\rtx{676}{710}{769}{745}\rtx{576}{793}{669}{1060}\rtx{676}{775}{769}{1060}
\rtx{676}{928}{769}{943}
\rti{833}{270}{1019}{325}\rtx{847}{367}{905}{386}\rtx{847}{393}{1006}{425}\rtx{847}{435}{968}{450}
\rtx{847}{459}{917}{474}\rtx{847}{484}{894}{499}\rtx{848}{508}{1026}{553}\rtx{848}{562}{1026}{692}
\rti{833}{727}{863}{747}\rtx{833}{757}{926}{1068}\rln{833}{926}{851}\rln{833}{926}{911}\rln{833}{926}{1033}
\rtx{932}{730}{1026}{1068}\rln{932}{1026}{763}\rln{932}{1026}{845}\rln{932}{1026}{925}
\rti{1091}{259}{1250}{327}\rtx{1101}{510}{1283}{547}\rtx{1101}{609}{1283}{645}\rtx{1188}{645}{1283}{680}
\rti{1091}{677}{1119}{712}\rtx{1087}{729}{1181}{797}\rtx{1087}{729}{1181}{797}\rtx{1188}{710}{1283}{745}
\rtx{1188}{710}{1283}{745}\rtx{1188}{745}{1283}{880}\rln{1188}{1283}{778}\rln{1188}{1283}{812}
\rtx{1188}{845}{1283}{880}\rti{1091}{810}{1119}{847}\rtx{1087}{828}{1181}{1080}\rln{1087}{1181}{898}
\rtx{1087}{1015}{1181}{1030}\rln{1087}{1181}{1048}\rtx{1188}{897}{1283}{1048}\rtx{1188}{945}{1283}{965}
\rtx{1188}{1013}{1283}{1048}
\rtx{1343}{142}{1436}{223}\rtx{1442}{142}{1535}{342}\rtx{1442}{195}{1535}{222}\rtx{1343}{252}{1436}{285}
\rti{1342}{272}{1432}{320}\rti{1442}{343}{1497}{360}\rtx{1343}{367}{1436}{427}\rln{1343}{1436}{397}
\rtx{1442}{410}{1535}{475}\rtx{1357}{463}{1426}{482}\rti{1343}{493}{1393}{510}\rtx{1343}{520}{1436}{715}
\rtx{1442}{508}{1535}{668}\rti{1343}{737}{1372}{755}\rti{1439}{737}{1473}{755}\rtx{1343}{786}{1436}{1008}
\rtx{1343}{863}{1436}{883}\rtx{1442}{768}{1535}{898}\rtx{1442}{915}{1535}{1062}
\end{scope}
% ===== ROW 6 LEFT =====
\begin{scope}[shift={(-0.5pt,-967pt)},x=0.5071pt,y=-0.1577pt]
\rtx{358}{130}{452}{553}\rln{358}{452}{188}\rln{358}{452}{265}\rln{358}{452}{395}\rln{358}{452}{478}
\rfi{459}{127}{552}{634}\rtx{358}{688}{452}{918}\rln{358}{452}{770}\rln{358}{452}{833}
\rtx{459}{663}{552}{737}\rtx{459}{748}{552}{860}\rti{360}{925}{378}{938}\rtx{459}{875}{552}{1050}
\rln{459}{552}{980}\rtx{358}{960}{452}{1083}\rtx{358}{1027}{452}{1042}
\rtx{609}{142}{699}{178}\rli{710}{176}{794}{212}\rtx{609}{193}{699}{562}\rln{609}{699}{258}
\rtx{609}{360}{699}{462}\rtx{707}{243}{797}{278}\rtx{609}{310}{770}{347}\rtx{707}{310}{797}{445}
\rln{707}{797}{410}\rtx{707}{460}{797}{610}\rtx{707}{580}{797}{595}\rtx{609}{595}{699}{1067}
\rln{609}{699}{863}\rln{609}{699}{997}\rtx{707}{628}{797}{965}\rln{707}{797}{697}\rln{707}{797}{763}
\rtx{707}{810}{797}{830}\rtx{707}{897}{797}{912}\rtx{707}{980}{797}{1080}
\rtx{852}{155}{945}{268}\rln{852}{945}{203}\rtx{952}{155}{1045}{317}\rti{850}{285}{874}{300}
\rtx{952}{325}{1045}{455}\rtx{952}{360}{1045}{372}\rti{950}{462}{973}{478}\rtx{852}{342}{945}{888}
\rtx{852}{457}{945}{475}\rln{852}{945}{655}\rtx{852}{823}{945}{835}\rtx{952}{482}{1045}{967}
\rln{952}{1045}{562}\rln{952}{1045}{670}\rln{952}{1045}{742}\rtx{852}{892}{945}{973}
\rli{852}{1017}{945}{1065}\rtx{952}{975}{1045}{1053}
\rtx{1100}{155}{1192}{223}\rtx{1198}{140}{1289}{175}\rtx{1100}{240}{1192}{343}\rtx{1198}{222}{1289}{290}
\rti{1198}{305}{1289}{343}\rtx{1100}{355}{1192}{425}\rtx{1100}{440}{1192}{545}\rtx{1100}{473}{1192}{510}
\rtx{1198}{373}{1289}{1028}\rtx{1198}{458}{1289}{475}\rtx{1198}{692}{1289}{727}\rtx{1198}{742}{1289}{760}
\rtx{1198}{828}{1289}{878}\rln{1198}{1289}{525}\rln{1198}{1289}{660}\rln{1198}{1289}{895}\rln{1198}{1289}{960}
\rtx{1100}{575}{1192}{775}\rln{1100}{1192}{675}\rtx{1100}{792}{1192}{1028}\rtx{1100}{827}{1192}{862}
\rtx{1100}{910}{1192}{943}\rln{1100}{1192}{893}\rln{1100}{1192}{960}
\rtx{1349}{130}{1443}{1065}\rln{1349}{1443}{188}\rln{1349}{1443}{260}\rln{1349}{1443}{385}
\rln{1349}{1443}{442}\rln{1349}{1443}{598}\rln{1349}{1443}{683}\rln{1349}{1443}{768}
\rln{1349}{1443}{853}\rln{1349}{1443}{922}\rln{1349}{1443}{1008}
\rfi{1449}{130}{1541}{638}\rtx{1449}{652}{1541}{723}\rtx{1449}{738}{1541}{825}\rti{1449}{840}{1466}{855}
\rtx{1449}{865}{1541}{1065}\rln{1449}{1541}{980}
\end{scope}
% ===== ROW 6 RIGHT =====
\begin{scope}[shift={(803.9pt,-967pt)},x=0.4874pt,y=-0.1577pt]
\rtx{322}{178}{412}{785}\rln{322}{412}{275}\rln{322}{412}{485}\rln{322}{412}{578}
\rtx{417}{178}{507}{275}\rti{417}{295}{433}{312}\rti{417}{310}{437}{327}\rtx{417}{322}{507}{500}
\rti{417}{522}{437}{540}\rtx{417}{532}{507}{785}\rtx{417}{608}{507}{628}\rtx{322}{793}{431}{808}
\rtb{322}{795}{507}{887}\rtx{322}{898}{368}{913}\rtx{322}{913}{507}{932}\rtx{324}{945}{393}{965}
\rtx{578}{122}{665}{157}\rtx{675}{137}{768}{425}\rtx{675}{190}{768}{207}\rtb{574}{172}{668}{440}
\rtx{675}{437}{768}{838}\rln{675}{768}{505}\rln{675}{768}{637}\rtx{574}{470}{668}{805}
\rfi{603}{850}{739}{1018}\rtx{574}{1017}{697}{1052}
\rtx{835}{152}{925}{572}\rfi{930}{153}{1020}{348}\rtx{930}{378}{1020}{462}\rtx{930}{498}{1020}{628}
\rtx{835}{585}{925}{665}\rfi{835}{657}{925}{1018}\rtx{930}{693}{1020}{1028}\rtx{836}{1037}{898}{1055}
\rtx{1092}{186}{1178}{288}\rtx{1192}{186}{1278}{288}\rtx{1092}{302}{1178}{520}\rtx{1092}{352}{1178}{370}
\rtx{1192}{318}{1278}{420}\rti{1189}{420}{1210}{455}\rtx{1192}{468}{1278}{602}\rln{1192}{1278}{535}
\rtx{1092}{552}{1178}{750}\rtx{1092}{552}{1178}{650}\rtx{1192}{633}{1278}{703}\rtx{1192}{633}{1278}{703}
\rti{1189}{717}{1211}{750}\rtx{1192}{717}{1278}{750}\rti{1092}{782}{1122}{818}\rtx{1092}{782}{1178}{935}
\rtx{1092}{867}{1178}{883}\rtx{1192}{767}{1278}{1000}\rtx{1192}{867}{1278}{902}\rln{1192}{1278}{832}
\rln{1192}{1278}{933}\rti{1192}{982}{1221}{1015}\rtx{1192}{1013}{1278}{1048}\rtx{1092}{948}{1178}{1048}
\rtx{1346}{180}{1436}{735}\rln{1346}{1436}{273}\rln{1346}{1436}{562}\rtx{1441}{177}{1531}{210}
\rti{1441}{227}{1486}{243}\rtx{1441}{242}{1531}{450}\rti{1441}{467}{1511}{485}\rtx{1441}{483}{1531}{707}
\rln{1441}{1531}{610}\rti{1441}{722}{1461}{738}\rti{1346}{752}{1361}{768}\rti{1346}{768}{1366}{788}
\rtx{1441}{738}{1531}{880}\rtx{1346}{785}{1436}{880}\rtx{1346}{912}{1453}{930}\rtb{1346}{930}{1531}{1017}
\rtx{1346}{1017}{1531}{1040}
\end{scope}
\end{tikzpicture}
\end{document}
